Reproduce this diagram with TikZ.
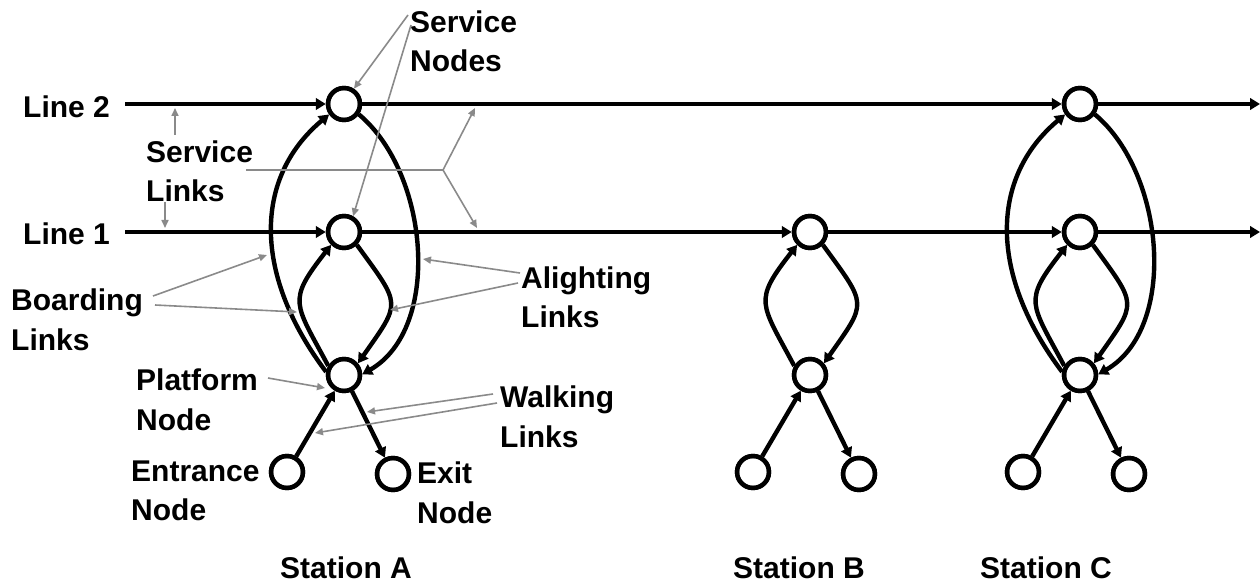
\documentclass[tikz,border=0pt]{standalone}
\usepackage{fontspec}
\setmainfont{Liberation Sans}
\usetikzlibrary{arrows.meta}
\definecolor{notegray}{RGB}{138,138,138}
\begin{document}
\begin{tikzpicture}[x=1pt,y=1pt,
  link/.style={line width=4.4pt,-{Triangle[length=10pt,width=11.5pt]}},
  stnode/.style={circle,draw,line width=4.4pt,minimum size=32pt,inner sep=0pt,fill=white},
  rim/.style={line width=4.4pt},
  note/.style={draw=notegray,line width=1.6pt,-{Triangle[length=8pt,width=7pt]}},
  noteline/.style={draw=notegray,line width=1.6pt},
  lbl/.style={anchor=base west,inner sep=0pt,font=\bfseries\fontsize{30}{36}\selectfont}]
\useasboundingbox (0,0) rectangle (1260,-585);

% station nodes: service nodes on each line, platform, entrance, exit
\foreach \s/\x in {A/344,B/810,C/1080}{
  \node[stnode] (\s1) at (\x,-232) {};
  \node[stnode] (\s p) at (\x,-375) {};
  \node[stnode] (\s e) at (\x-57,-472) {};
  \node[stnode] (\s x) at (\x+49,-474) {};
}
\node[stnode] (A2) at (344,-104) {};
\node[stnode] (C2) at (1080,-104) {};

% line ends
\coordinate (L2s) at (125,-104);
\coordinate (L2e) at (1260,-104);
\coordinate (L1s) at (125,-232);
\coordinate (L1e) at (1260,-232);

% service links
\draw[link] (L2s) -- (A2);
\draw[link] (A2) -- (C2);
\draw[link] (C2) -- (L2e);
\draw[link] (L1s) -- (A1);
\draw[link] (A1) -- (B1);
\draw[link] (B1) -- (C1);
\draw[link] (C1) -- (L1e);

% boarding and alighting links to line 1, walking links
\foreach \s in {A,B,C}{
  \draw[link] (\s p.150) to[out=118,in=232,distance=72pt] (\s1.225);
  \draw[link] (\s1.-45) to[out=-54,in=55,distance=76pt] (\s p.40);
  \draw[link] (\s e) -- (\s p);
  \draw[link] (\s p) -- (\s x);
}
% boarding and alighting links to line 2
\foreach \s in {A,C}{
  \draw[link] (\s p.170) to[out=127,in=220,out distance=120pt,in distance=100pt] (\s2.215);
  \draw[link] (\s2.-35) to[out=-40,in=30,out distance=92pt,in distance=92pt] (\s p.2);
}
% node rims drawn over the link ends
\foreach \s in {A,B,C}{
  \foreach \n in {1, p, e, x}{ \draw[rim] (\s\n) circle (16pt); }
}
\draw[rim] (A2) circle (16pt);
\draw[rim] (C2) circle (16pt);

% labels
\node[lbl] (t2) at (23,-118) {Line 2};
\node[lbl] (t1) at (23,-245) {Line 1};
\node[lbl] (sn1) at (410,-33) {Service};
\node[lbl] (sn2) at (410,-72) {Nodes};
\node[lbl] (sl1) at (146,-163) {Service};
\node[lbl] (sl2) at (146,-202) {Links};
\node[lbl] (bl1) at (11,-310) {Boarding};
\node[lbl] (bl2) at (11,-350) {Links};
\node[lbl] (al1) at (521,-288) {Alighting};
\node[lbl] (al2) at (521,-327) {Links};
\node[lbl] (pn1) at (136,-390) {Platform};
\node[lbl] (pn2) at (136,-430) {Node};
\node[lbl] (wl1) at (500,-407) {Walking};
\node[lbl] (wl2) at (500,-447) {Links};
\node[lbl] (en1) at (131,-481) {Entrance};
\node[lbl] (en2) at (131,-520) {Node};
\node[lbl] (ex1) at (417,-483) {Exit};
\node[lbl] (ex2) at (417,-523) {Node};
\node[lbl] (sa) at (280,-578) {Station A};
\node[lbl] (sb) at (733,-578) {Station B};
\node[lbl] (sc) at (980,-578) {Station C};

% callout arrows
\coordinate (snA) at (408,-15);
\coordinate (snB) at (411,-25);
\draw[note] (snA) -- (A2.57);
\draw[note] (snB) -- (A1.60);

\coordinate (slU) at (175,-135);
\coordinate (slUt) at (175,-108);
\coordinate (slD) at (165,-202);
\coordinate (slDt) at (165,-228);
\coordinate (slH) at (246,-170);
\coordinate (slJ) at (443,-170);
\coordinate (slR2) at (475,-108);
\coordinate (slR1) at (477,-228);
\draw[note] (slU) -- (slUt);
\draw[note] (slD) -- (slDt);
\draw[noteline] (slH) -- (slJ);
\draw[note] (slJ) -- (slR2);
\draw[note] (slJ) -- (slR1);

\coordinate (bS1) at (153,-296);
\coordinate (bT1) at (267,-255);
\coordinate (bS2) at (155,-305);
\coordinate (bT2) at (297,-312);
\draw[note] (bS1) -- (bT1);
\draw[note] (bS2) -- (bT2);

\coordinate (aS1) at (520,-273);
\coordinate (aT1) at (423,-259);
\coordinate (aS2) at (518,-283);
\coordinate (aT2) at (390,-310);
\draw[note] (aS1) -- (aT1);
\draw[note] (aS2) -- (aT2);

\coordinate (pS) at (268,-378);
\coordinate (pT) at (325,-388);
\draw[note] (pS) -- (pT);

\coordinate (wS1) at (493,-394);
\coordinate (wT1) at (367,-412);
\coordinate (wS2) at (497,-403);
\coordinate (wT2) at (315,-433);
\draw[note] (wS1) -- (wT1);
\draw[note] (wS2) -- (wT2);
\end{tikzpicture}
\end{document}
